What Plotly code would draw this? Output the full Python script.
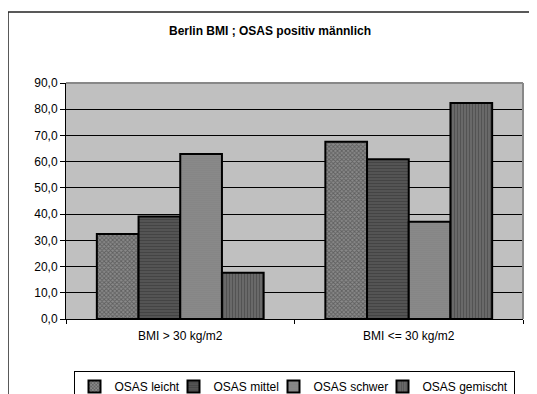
import plotly.graph_objects as go

categories = ["BMI > 30 kg/m2", "BMI <= 30 kg/m2"]
series_names = ["OSAS leicht", "OSAS mittel", "OSAS schwer", "OSAS gemischt"]
osas_leicht = [32.4, 67.6]
osas_mittel = [39.1, 60.9]
osas_schwer = [62.9, 37.1]
osas_gemischt = [17.6, 82.4]
y_ticks = [0, 10, 20, 30, 40, 50, 60, 70, 80, 90]

values = [osas_leicht, osas_mittel, osas_schwer, osas_gemischt]
patterns = [
    dict(shape="x", fgcolor="#333333", bgcolor="#8a8a8a", size=3, solidity=0.5),
    dict(shape="-", fgcolor="#333333", bgcolor="#555555", size=3, solidity=0.4),
    dict(shape=".", fgcolor="#555555", bgcolor="#979797", size=2, solidity=0.55),
    dict(shape="|", fgcolor="#363636", bgcolor="#707070", size=3, solidity=0.5),
]
# legend entry text widths (px) trimmed so entries sit close together like the original
legend_widths = [54, 55, 64, None]

fig = go.Figure()
for name, vals, pat, lw in zip(series_names, values, patterns, legend_widths):
    fig.add_trace(go.Bar(
        x=categories, y=vals, name=name, legendwidth=lw,
        marker=dict(color=pat["bgcolor"], pattern=pat,
                    line=dict(color="#000000", width=2)),
    ))

# the page body adds an 8px offset; work in reference pixel coords shifted by OFF
OFF = 8
W, H = 537 - OFF, 394 - OFF
L, R, T, B = 66, 523, 83, 319          # plot area in reference pixels
ml, mr, mt, mb = L - OFF, (537 - R), T - OFF, (394 - B)
pw, ph = R - L, B - T

def px_x(x):
    return (x - L) / pw

def px_y(y):
    return (B - y) / ph

fig.update_layout(
    width=W, height=H,
    margin=dict(l=ml, r=mr, t=mt, b=mb, autoexpand=False),
    paper_bgcolor="#ffffff", plot_bgcolor="#c0c0c0",
    separators=",.",
    font=dict(family="Liberation Sans, Arial, sans-serif", size=12, color="#000000"),
    title=dict(text="<b>Berlin BMI ; OSAS positiv männlich</b>",
               x=(270 - OFF) / W, xref="container", xanchor="center",
               y=1 - (31 - OFF) / H, yref="container", yanchor="middle",
               font=dict(size=12)),
    barmode="group", bargap=0.27, bargroupgap=0,
    showlegend=True,
    legend=dict(orientation="h", xref="container", x=(294 - OFF) / W, xanchor="center",
                yref="container", y=1 - (371 - OFF) / H, yanchor="top",
                bgcolor="#ffffff", bordercolor="#000000", borderwidth=1,
                font=dict(size=12), traceorder="normal", tracegroupgap=0),
    xaxis=dict(type="category", range=[-0.5, 1.5], showline=True, linecolor="#000000",
               linewidth=1, ticks="outside", tickson="boundaries", ticklen=4,
               tickcolor="#000000", showgrid=False, ticklabelstandoff=6),
    yaxis=dict(range=[0, 90], tickvals=y_ticks, tickformat=".1f", showline=True,
               linecolor="#000000", linewidth=1, ticks="outside", ticklen=5,
               tickcolor="#000000", showgrid=True, gridcolor="#000000", gridwidth=1,
               zeroline=False),
    shapes=[
        dict(type="line", xref="paper", yref="paper", x0=0, x1=1, y0=1, y1=1,
             line=dict(color="#888888", width=2), layer="above"),
        dict(type="line", xref="paper", yref="paper", x0=1, x1=1, y0=0, y1=1,
             line=dict(color="#888888", width=2), layer="above"),
        dict(type="line", xref="paper", yref="paper", x0=px_x(8), x1=px_x(8),
             y0=px_y(12), y1=px_y(400), line=dict(color="#222222", width=1.5)),
        dict(type="line", xref="paper", yref="paper", x0=px_x(8), x1=px_x(545),
             y0=px_y(12), y1=px_y(12), line=dict(color="#222222", width=1.5)),
    ],
)

fig.write_html("out.html")
